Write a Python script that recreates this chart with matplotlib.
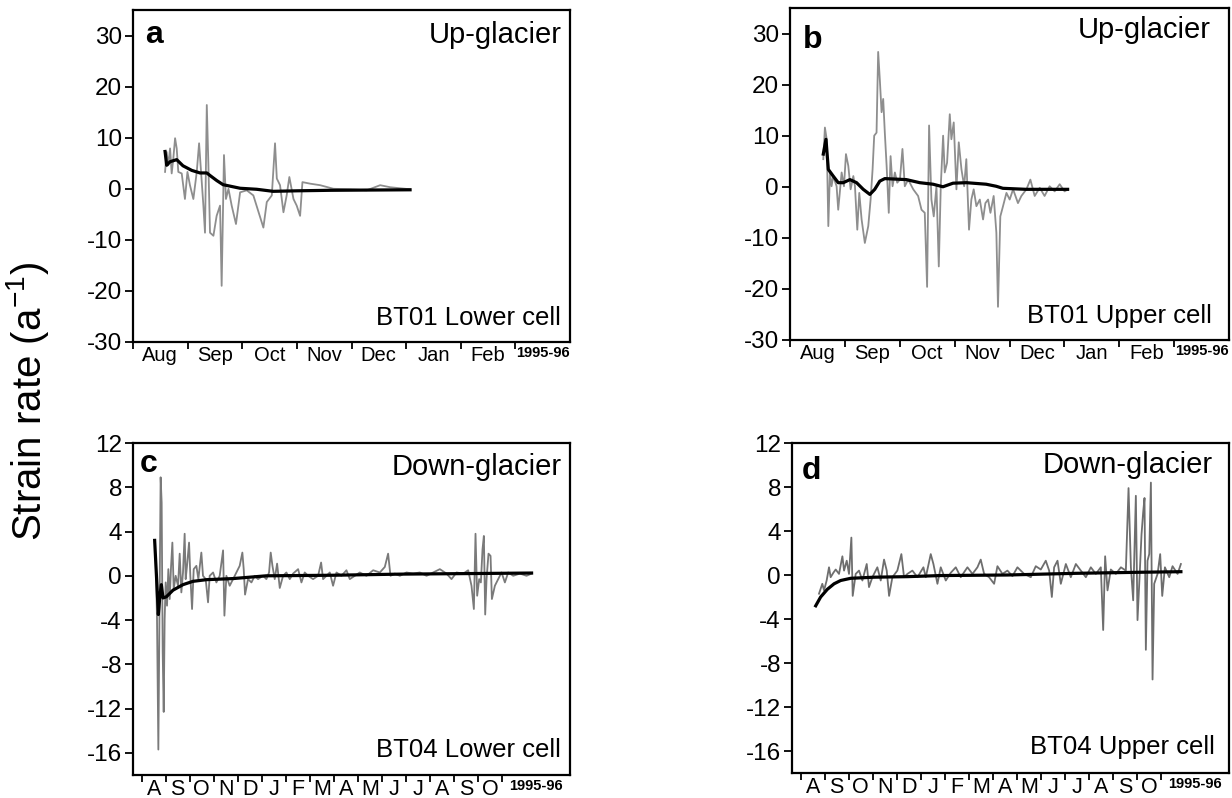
import matplotlib
matplotlib.use("Agg")
import matplotlib.pyplot as plt
import numpy as np

plt.rcParams['font.family'] = ['Liberation Sans', 'DejaVu Sans']
plt.rcParams['mathtext.fontset'] = 'custom'
plt.rcParams['mathtext.rm'] = 'Liberation Sans'
plt.rcParams['axes.unicode_minus'] = False

MONTH = 30.5  # days per month on the axis

# --- panel a : BT01 lower cell (days since 1 Aug) ---
a_days = [17.9, 18.8, 19.7, 20.7, 21.6, 22.5, 23.5, 24.4, 25.3, 27.2, 29.0, 30.4, 31.8, 33.7, 35.6,
          36.9, 38.0, 39.3, 40.2, 41.2, 42.1, 43.0, 44.9, 46.7, 48.6, 49.5, 50.8, 51.9, 53.3, 55.1,
          57.5, 59.8, 63.5, 67.2, 72.8, 74.7, 77.5, 79.3, 80.3, 82.1, 84.0, 85.8, 87.3, 89.6, 91.4,
          93.3, 94.6, 98.9, 104.5, 111.9, 121.2, 130.5, 138.0, 143.6, 154.7]
a_rate = [3.3, 7.2, 4.6, 7.9, 3.0, 5.9, 9.9, 7.9, 3.3, 3.0, -2.0, 3.3, 0.7, -2.0, 3.3,
          8.9, 3.3, -3.3, -8.6, 16.4, 4.6, -8.6, -9.2, -5.3, -3.3, -19.0, 6.6, -2.0, 0.0, -3.3,
          -6.9, -0.7, -0.3, -1.3, -7.6, -2.6, -1.3, 8.9, 2.0, 0.7, -4.6, -1.3, 2.3, -2.0, -3.3,
          -5.3, 1.3, 1.0, 0.7, 0.0, -0.1, -0.3, 0.7, 0.3, -0.1]
a_trend_days = [17.9, 18.8, 20.7, 24.4, 27.9, 32.8, 37.4, 41.2, 43.0, 46.8, 50.3, 59.8, 69.1,
                78.2, 91.4, 110.0, 154.7]
a_trend = [7.3, 4.6, 5.3, 5.7, 4.5, 3.6, 3.1, 3.1, 2.6, 1.6, 0.8, 0.1, -0.1, -0.5, -0.4, -0.3, -0.2]

# --- panel b : BT01 upper cell ---
b_days = [18.5, 19.4, 20.4, 21.3, 22.2, 23.1, 24.0, 25.9, 26.8, 28.7, 30.0, 31.1, 32.4, 33.7, 35.2,
          36.1, 37.4, 38.5, 39.8, 41.6, 43.5, 44.8, 45.9, 46.8, 48.1, 49.0, 50.0, 50.9, 51.8, 52.7,
          53.7, 54.9, 55.9, 57.0, 58.3, 59.6, 61.1, 62.5, 63.8, 65.7, 68.5, 71.2, 73.1, 74.9, 76.2,
          77.3, 78.6, 79.9, 81.4, 82.7, 83.8, 85.1, 86.0, 87.3, 88.8, 89.7, 91.0, 92.5, 93.8, 95.3,
          96.8, 98.0, 99.5, 100.8, 102.1, 103.6, 105.5, 107.3, 108.6, 110.1, 111.4, 113.2, 114.7, 115.6,
          116.9, 118.4, 120.3, 122.1, 124.0, 126.7, 128.6, 131.4, 133.6, 136.0, 138.8, 141.5, 144.3,
          147.1, 149.9, 152.6, 154.5]
b_rate = [5.4, 11.6, 9.3, -7.7, 2.8, 0.1, 2.1, 0.1, -4.5, 2.8, 0.1, 6.4, 4.1, -0.5, 2.1,
          0.1, -8.4, -1.2, -6.4, -11.0, -7.7, -2.5, 3.4, 10.0, 10.6, 26.4, 20.5, 14.6, 17.2, 10.6,
          4.1, -5.1, 6.0, 0.1, 2.8, 0.8, 1.4, 7.4, 0.1, 1.4, -0.5, -1.8, -4.5, -5.1, -19.6,
          12.0, -2.5, -5.8, 0.1, -15.6, 0.1, 10.0, 2.8, 4.7, 14.2, 9.3, 12.6, -0.5, 8.7, 3.4,
          0.1, 5.4, -8.4, -2.5, -0.5, -3.8, -2.5, -6.4, -3.2, -2.5, -5.1, -1.8, -9.0, -23.5,
          -5.8, -3.8, -1.2, -2.5, -0.5, -3.2, -1.8, -0.5, 1.4, -1.8, -0.2, -1.8, 0.1,
          -0.9, 0.5, -0.9, -0.5]
b_trend_days = [18.5, 20.0, 21.3, 24.0, 26.8, 29.6, 33.3, 37.0, 40.7, 44.4, 47.1, 49.9, 52.7,
                64.7, 72.1, 79.5, 85.0, 90.6, 98.0, 109.0, 114.6, 118.3, 131.2, 154.3]
b_trend = [6.4, 9.3, 3.4, 2.1, 0.8, 0.8, 1.4, 0.8, -0.5, -1.5, -0.5, 1.1, 1.6,
           1.4, 0.8, 0.5, 0.0, 0.7, 0.8, 0.5, 0.1, -0.3, -0.5, -0.5]

# --- panel c : BT04 lower cell ---
c_days = [17.8, 19.5, 21.2, 22.9, 24.1, 25.4, 26.7, 28.0, 29.2, 30.5, 32.2, 33.9, 35.6, 37.3, 39.0,
          40.7, 43.2, 46.2, 48.3, 50.4, 52.5, 54.6, 55.9, 57.6, 60.2, 61.8, 64.0, 66.1, 69.5, 72.0,
          75.8, 77.9, 81.3, 84.3, 86.4, 90.7, 94.9, 99.1, 103.4, 105.1, 107.6, 111.8, 116.1, 120.3,
          124.5, 127.9, 129.6, 131.3, 135.1, 139.4, 143.6, 147.8, 154.2, 158.4, 161.8, 163.9, 166.1,
          169.0, 172.0, 175.4, 179.6, 183.8, 188.1, 192.3, 198.7, 202.9, 207.1, 211.4, 217.7, 224.1,
          227.9, 230.4, 234.7, 238.9, 243.1, 247.4, 253.7, 260.1, 264.3, 270.7, 277.0, 285.5, 294.0,
          302.5, 308.8, 313.0, 316.0, 321.5, 327.9, 336.3, 344.8, 353.3, 361.8, 370.2, 378.7, 387.2,
          393.5, 399.9, 408.4, 414.7, 418.9, 421.9, 424.0, 426.1, 428.7, 430.8, 432.9, 434.6, 436.3,
          438.0, 440.5, 443.1, 444.8, 448.6, 452.8, 457.1, 461.3, 465.5, 471.9, 480.4, 488.8, 495.2]
c_rate = [1.5, -3.9, -15.7, -0.9, 8.9, 6.6, -6.9, -12.3, -3.9, -0.6, -2.7, 0.6, -2.1, 0.8, 3.0,
          -1.2, 0.0, -0.9, 2.0, -1.5, 0.3, 3.8, -0.3, 0.9, 3.0, 0.0, -3.0, 0.6, 0.9, -0.3,
          2.1, 0.0, -0.3, -2.4, 0.0, 0.3, -0.6, 0.0, 2.3, -3.6, 0.0, -0.9, -0.3, 0.3,
          0.9, 2.1, 0.6, -1.7, -0.3, -0.6, 0.0, -0.3, 0.0, -0.3, 0.3, 2.1, 0.9,
          -0.3, 1.1, -1.1, 0.0, 0.3, -0.3, 0.2, 0.6, -0.6, 0.3, 0.0, -0.3, 0.0,
          1.2, -0.3, 0.0, 0.3, -0.9, 0.3, 0.0, 0.5, -0.3, 0.0, 0.3, 0.0, 0.5,
          0.3, 0.8, 2.0, 0.0, 0.2, 0.0, 0.3, 0.2, 0.3, 0.0, 0.3, 0.6, 0.2,
          -0.3, 0.3, 0.2, 0.5, -0.9, -3.0, 3.8, -1.8, -0.3, -0.6, 2.4, 3.6, -3.5,
          -0.3, 2.0, 1.8, -2.1, -0.9, -0.3, 0.3, -0.6, 0.3, 0.0, 0.2, 0.0, 0.2]
c_trend_days = [16.5, 19.5, 21.2, 22.9, 25.0, 27.1, 31.3, 39.8, 52.5, 65.2, 82.2, 116.1, 158.4,
                243.1, 327.9, 412.6, 495.2]
c_trend = [3.2, -1.0, -3.5, -2.0, -0.8, -2.0, -1.9, -1.3, -0.8, -0.5, -0.35, -0.25, 0.0,
           0.05, 0.15, 0.2, 0.25]

# --- panel d : BT04 upper cell ---
d_days = [23.3, 27.5, 29.7, 33.0, 36.0, 38.1, 41.5, 44.5, 48.7, 53.0, 55.1, 58.5, 61.4, 64.4, 66.1,
          69.9, 74.1, 78.4, 83.9, 86.8, 91.1, 97.4, 101.7, 105.9, 109.3, 112.3, 116.5, 122.8, 127.9,
          131.3, 135.6, 141.9, 148.3, 155.9, 158.9, 165.2, 168.6, 173.7, 177.9, 184.3, 190.6, 197.0,
          203.3, 211.8, 218.2, 224.5, 228.7, 233.0, 239.3, 245.7, 249.9, 256.3, 262.6, 269.0, 275.3,
          283.8, 292.3, 298.6, 305.0, 311.3, 315.6, 319.0, 321.9, 326.2, 330.4, 336.8, 343.1, 349.5,
          355.8, 362.2, 368.5, 374.9, 381.2, 384.2, 386.7, 389.7, 393.9, 400.3, 406.7, 413.0, 416.4,
          419.4, 422.3, 425.7, 427.8, 430.4, 432.9, 435.0, 436.7, 438.4, 440.5, 442.7, 444.8, 446.9,
          449.0, 453.3, 456.6, 459.2, 462.6, 468.1, 472.3, 478.7, 482.9]
d_rate = [-1.7, -0.8, -1.4, -0.5, 0.7, -0.2, 0.2, 0.5, 0.1, 1.7, 0.4, 1.3, 0.1, 3.4, -1.9,
          0.1, 0.4, -0.5, 1.0, -1.1, -0.2, 0.7, -0.5, 1.4, 0.4, -1.9, -0.2, 0.4, 1.9,
          -0.2, 0.1, 0.4, -0.2, 0.7, -0.2, 1.9, 1.0, -0.8, 0.7, -0.5, 0.2, 0.7,
          -0.2, 0.7, 0.1, 0.7, 1.4, 0.1, -0.2, -0.8, 0.8, 0.1, 0.4, -0.1, 0.7,
          0.1, -0.2, 0.8, 0.5, 1.3, 0.4, -2.0, 0.7, 1.3, -0.8, 1.0, -0.2, 1.0,
          0.4, -0.2, 0.7, 0.1, 0.7, -5.0, 1.7, -1.4, 0.5, 0.1, 0.7, 0.4, 7.9,
          0.7, -2.3, 7.2, -4.1, -0.2, 3.7, 5.7, 7.0, -6.8, 1.3, 1.9, 8.4, -9.5,
          -0.8, 0.1, 1.9, -1.9, 0.7, -0.2, 0.8, 0.1, 1.0]
d_trend_days = [19.1, 25.4, 33.9, 42.4, 50.8, 63.5, 93.2, 135.6, 177.9, 262.6, 347.4, 432.1, 482.9]
d_trend = [-2.8, -2.0, -1.3, -0.8, -0.5, -0.3, -0.2, -0.15, -0.05, 0.0, 0.15, 0.25, 0.3]

short_months = ['Aug', 'Sep', 'Oct', 'Nov', 'Dec', 'Jan', 'Feb']
long_months = ['A', 'S', 'O', 'N', 'D', 'J', 'F', 'M', 'A', 'M', 'J', 'J', 'A', 'S', 'O']
season = '1995-96'

fig = plt.figure(figsize=(12.32, 7.98), dpi=100)
W, H = 1232, 798


def box(l, t, r, b):
    return fig.add_axes([l / W, 1 - b / H, (r - l) / W, (b - t) / H])


ax_a = box(133, 10, 570, 342)
ax_b = box(790, 8, 1229, 340)
ax_c = box(133, 443, 570, 775)
ax_d = box(792, 443, 1229, 773)


def style(ax, months, xmax, label_size):
    for s in ax.spines.values():
        s.set_linewidth(1.6)
    n = len(months)
    bounds = [k * MONTH for k in range(n + 1)]
    ax.set_xticks(bounds)
    ax.set_xticklabels([])
    centres = [(k + 0.5) * MONTH for k in range(n)]
    centres.append((n * MONTH + xmax) / 2)
    ax.set_xticks(centres, minor=True)
    ax.set_xticklabels(months + [season], minor=True, fontsize=label_size)
    ax.get_xticklabels(minor=True)[-1].set_fontsize(10.5)
    ax.get_xticklabels(minor=True)[-1].set_fontweight('bold')
    ax.tick_params(axis='x', which='major', direction='out', length=5, width=1.3)
    ax.tick_params(axis='x', which='minor', length=0, pad=3)
    ax.tick_params(axis='y', direction='out', length=6, width=1.3, labelsize=17.5, pad=2)


def draw(ax, days, rate, tdays, trend, grey):
    ax.plot(days, rate, color=grey, lw=1.3, zorder=2)
    ax.plot(tdays, trend, color='black', lw=2.3, zorder=3)


draw(ax_a, a_days, a_rate, a_trend_days, a_trend, '#8e8e8e')
draw(ax_b, b_days, b_rate, b_trend_days, b_trend, '#8e8e8e')
draw(ax_c, c_days, c_rate, c_trend_days, c_trend, '#7a7a7a')
draw(ax_d, d_days, d_rate, d_trend_days, d_trend, '#6e6e6e')

for ax in (ax_a, ax_b):
    ax.set_xlim(0, 8 * MONTH)
    ax.set_ylim(-30, 35)
    ax.set_yticks(np.arange(-30, 31, 10))
    style(ax, short_months, 8 * MONTH, 14.5)

for ax in (ax_c, ax_d):
    ax.set_xlim(-11, 544)
    ax.set_ylim(-18, 12)
    ax.set_yticks(np.arange(-16, 13, 4))
    style(ax, long_months, 544, 15.5)

labels = [
    (ax_a, 'a', 0.027, 0.90, 'Up-glacier', 0.982, 0.90, 'BT01 Lower cell', 0.978, 0.051),
    (ax_b, 'b', 0.03, 0.88, 'Up-glacier', 0.959, 0.91, 'BT01 Upper cell', 0.961, 0.051),
    (ax_c, 'c', 0.016, 0.913, 'Down-glacier', 0.982, 0.904, 'BT04 Lower cell', 0.979, 0.054),
    (ax_d, 'd', 0.023, 0.89, 'Down-glacier', 0.963, 0.909, 'BT04 Upper cell', 0.968, 0.058),
]
for ax, letter, lx, ly, flow, fx, fy, cell, cx, cy in labels:
    ax.text(lx, ly, letter, transform=ax.transAxes, fontsize=23, fontweight='bold',
            ha='left', va='baseline')
    ax.text(fx, fy, flow, transform=ax.transAxes, fontsize=21, ha='right', va='baseline')
    ax.text(cx, cy, cell, transform=ax.transAxes, fontsize=18.5, ha='right', va='baseline')

fig.text(28 / W, 0.497, r'Strain rate (a$^{\mathrm{-1}}$)', rotation=90, fontsize=29,
         ha='center', va='center')

fig.savefig('out.png', dpi=100)
